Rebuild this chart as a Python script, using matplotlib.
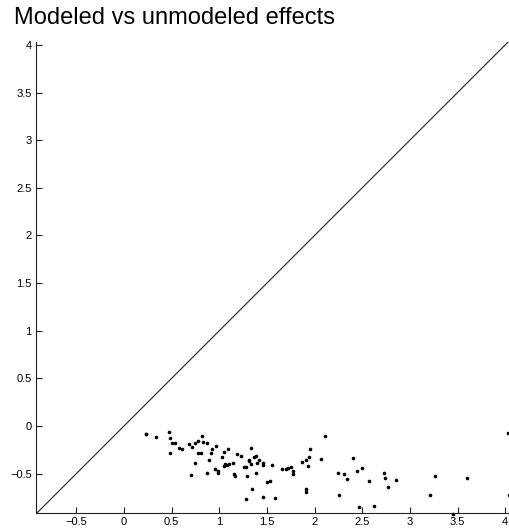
import numpy as np
import matplotlib.pyplot as plt

plt.rcParams['font.family'] = ['Liberation Sans', 'DejaVu Sans']

# Modeled (x) vs unmodeled (y) effects
modeled = [0.228, 0.236, 0.341, 0.472, 0.486, 0.506, 0.535, 0.483, 0.577, 0.605,
           0.687, 0.717, 0.747, 0.782, 0.822, 0.834, 0.866, 0.779, 0.813, 0.745,
           0.897, 0.866, 0.706, 0.926, 0.962, 0.918, 0.955, 0.990, 0.984, 1.028,
           1.049, 1.088, 1.051, 1.065, 1.081, 1.107, 1.146, 1.151, 1.168, 1.186,
           1.233, 1.262, 1.283, 1.296, 1.336, 1.308, 1.315, 1.329, 1.367, 1.382,
           1.399, 1.420, 1.388, 1.459, 1.455, 1.340, 1.506, 1.534, 1.455, 1.283,
           1.555, 1.584, 1.663, 1.698, 1.726, 1.749, 1.773, 1.773, 1.865, 1.905,
           1.938, 1.952, 1.934, 2.067, 2.109, 1.915, 1.910, 2.246, 2.253, 2.311,
           2.337, 2.403, 2.448, 2.494, 2.461, 2.568, 2.620, 2.731, 2.742, 2.770,
           2.851, 3.211, 3.263, 3.455, 3.602, 4.029, 4.040]
unmodeled = [-0.087, -0.079, -0.119, -0.068, -0.121, -0.182, -0.176, -0.287, -0.234, -0.236,
             -0.189, -0.215, -0.182, -0.161, -0.103, -0.168, -0.180, -0.280, -0.280, -0.388,
             -0.359, -0.490, -0.517, -0.245, -0.205, -0.287, -0.446, -0.467, -0.497, -0.320,
             -0.270, -0.245, -0.423, -0.399, -0.413, -0.399, -0.386, -0.507, -0.528, -0.289,
             -0.317, -0.427, -0.430, -0.525, -0.234, -0.352, -0.367, -0.396, -0.329, -0.312,
             -0.388, -0.352, -0.490, -0.388, -0.409, -0.659, -0.591, -0.581, -0.742, -0.766,
             -0.407, -0.756, -0.451, -0.451, -0.436, -0.425, -0.467, -0.501, -0.380, -0.357,
             -0.322, -0.245, -0.417, -0.350, -0.105, -0.656, -0.696, -0.496, -0.724, -0.499,
             -0.551, -0.334, -0.476, -0.441, -0.850, -0.574, -0.840, -0.490, -0.546, -0.640,
             -0.564, -0.728, -0.525, -0.924, -0.546, -0.077, -0.728]

xticks = [-0.5, 0, 0.5, 1, 1.5, 2, 2.5, 3, 3.5, 4]
yticks = [-0.5, 0, 0.5, 1, 1.5, 2, 2.5, 3, 3.5, 4]
ticklabels = ['\u22120.5', '0', '0.5', '1', '1.5', '2', '2.5', '3', '3.5', '4']

fig = plt.figure(figsize=(5.09, 5.31), dpi=100)
ax = fig.add_axes([36 / 509, 18 / 531, 473 / 509, 471 / 531])

# identity line
ax.plot([-1, 5], [-1, 5], color='#222222', lw=0.8)
ax.plot(modeled, unmodeled, 'o', color='black', ms=2.6, mew=0, clip_on=False)

ax.set_xlim(-0.923, 4.04)
ax.set_ylim(-0.913, 4.031)
ax.set_xticks(xticks)
ax.set_yticks(yticks)
ax.set_xticklabels(ticklabels)
ax.set_yticklabels(ticklabels)
ax.tick_params(direction='in', length=4, width=0.8, labelsize=8, pad=3,
               colors='#222222', labelcolor='black')
ax.spines['top'].set_visible(False)
ax.spines['right'].set_visible(False)
for s in ['left', 'bottom']:
    ax.spines[s].set_color('#222222')
    ax.spines[s].set_linewidth(0.8)

fig.text(14 / 509, 1 - 18 / 531, 'Modeled vs unmodeled effects', fontsize=17,
         ha='left', va='center')

fig.savefig('out.png', dpi=100)
